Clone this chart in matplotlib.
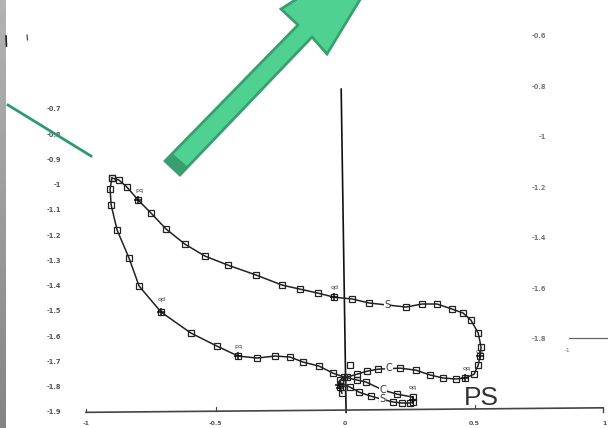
#!/usr/bin/python

import matplotlib
matplotlib.use("Agg")
import matplotlib.pyplot as plt
import numpy as np
from matplotlib.patches import Polygon

# scanned loop, from the top left corner, round the right lobe, to the centre
upper_x = [-0.900, -0.873, -0.842, -0.799, -0.749, -0.691, -0.618, -0.541, -0.452, -0.344, -0.243, -0.174, -0.104, -0.042, 0.027, 0.093, 0.236, 0.297, 0.355, 0.413, 0.456, 0.486, 0.514, 0.525, 0.521, 0.514, 0.498, 0.463, 0.429, 0.378, 0.328, 0.274, 0.212, 0.127, 0.085, 0.046, 0.008, -0.019, -0.019, -0.012]
upper_y = [-0.972, -0.980, -1.008, -1.059, -1.111, -1.174, -1.234, -1.281, -1.317, -1.356, -1.396, -1.412, -1.428, -1.444, -1.451, -1.467, -1.483, -1.471, -1.471, -1.491, -1.507, -1.535, -1.586, -1.642, -1.677, -1.713, -1.749, -1.764, -1.768, -1.764, -1.752, -1.733, -1.725, -1.729, -1.737, -1.749, -1.760, -1.772, -1.800, -1.824]

# from the same corner, down the left side, then round the small tail
lower_x = [-0.900, -0.907, -0.903, -0.880, -0.834, -0.795, -0.710, -0.595, -0.494, -0.413, -0.340, -0.270, -0.212, -0.162, -0.100, -0.046, -0.004, 0.046, 0.081, 0.147, 0.201, 0.263, 0.263, 0.251, 0.220, 0.185, 0.143, 0.100, 0.054, 0.019, -0.012]
lower_y = [-0.972, -1.016, -1.079, -1.178, -1.289, -1.400, -1.503, -1.586, -1.638, -1.677, -1.685, -1.677, -1.681, -1.701, -1.717, -1.745, -1.760, -1.772, -1.780, -1.812, -1.828, -1.840, -1.859, -1.863, -1.863, -1.859, -1.848, -1.836, -1.820, -1.800, -1.785]

stray_x = [0.019]
stray_y = [-1.713]

# points marked with an extra cross
cross_x = [-0.799, -0.042, -0.710, -0.413, 0.521, 0.463, 0.263, -0.025, -0.020]
cross_y = [-1.059, -1.444, -1.503, -1.677, -1.677, -1.764, -1.850, -1.790, -1.805]

point_labels = ["qd", "pq", "qd", "qq", "qq", "qq", "pq"]
label_x = [-0.040, -0.413, -0.710, 0.470, 0.262, 0.520, -0.795]
label_y = [-1.405, -1.640, -1.455, -1.725, -1.800, -1.660, -1.020]

letters = ["S", "C", "C", "S"]
letter_x = [0.162, 0.170, 0.147, 0.143]
letter_y = [-1.475, -1.725, -1.812, -1.848]

left_ticks = [-0.7, -0.8, -0.9, -1, -1.1, -1.2, -1.3, -1.4, -1.5, -1.6, -1.7, -1.8, -1.9]
left_labels = ["-0.7", "-0.8", "-0.9", "-1", "-1.1", "-1.2", "-1.3", "-1.4", "-1.5", "-1.6", "-1.7", "-1.8", "-1.9"]
right_ticks = [-0.6, -0.8, -1, -1.2, -1.4, -1.6, -1.8]
right_labels = ["-0.6", "-0.8", "-1", "-1.2", "-1.4", "-1.6", "-1.8"]
bottom_ticks = [-1, -0.5, 0, 0.5, 1]
bottom_labels = ["-1", "-0.5", "0", "0.5", "1"]

INK = "#222222"
RIGHT_OFFSET = 0.19  # right hand scale sits this far above the left one

fig = plt.figure(figsize=(6.08, 4.28), dpi=100)
ax = fig.add_axes([0, 0, 1, 1])
ax.set_xlim(-1.332, 1.015)
ax.set_ylim(-1.962, -0.267)
ax.axis("off")

# the scan is a little skewed, so both axes are slightly tilted
ax.plot([-0.015, 0.004], [-0.620, -1.900], color="#111111", linewidth=1.2)
ax.plot([-1.000, 0.996], [-1.900, -1.882], color="#444444", linewidth=1.2)
ax.plot([0.996, 0.996], [-1.882, -1.900], color="#444444", linewidth=1)
for t in bottom_ticks[:-1]:
    ax.plot([t, t], [-1.898 + 0.009 * (t + 1), -1.885 + 0.009 * (t + 1)], color="#444444", linewidth=0.8)
ax.plot([0.865, 1.012], [-1.605, -1.605], color="#666666", linewidth=0.9)
ax.text(0.860, -1.655, "-1", fontsize=4, color="#666666", ha="center", va="center")

ax.plot(upper_x, upper_y, color=INK, linewidth=1.1)
ax.plot(lower_x, lower_y, color=INK, linewidth=1.1)
for xs, ys in [(upper_x, upper_y), (lower_x, lower_y), (stray_x, stray_y)]:
    ax.plot(xs, ys, linestyle="none", marker="s", markersize=4, markerfacecolor="none", markeredgecolor=INK, markeredgewidth=0.9)
ax.plot(cross_x, cross_y, linestyle="none", marker="+", markersize=6, markeredgecolor="#111111", markeredgewidth=1.1)

for s, x, y in zip(point_labels, label_x, label_y):
    ax.text(x, y, s, fontsize=4.5, color="#333333", ha="center", va="center")
for s, x, y in zip(letters, letter_x, letter_y):
    ax.text(x, y, s, fontsize=7, color="#333333", ha="center", va="center",
            bbox=dict(facecolor="white", edgecolor="none", pad=0.3))

for t, s in zip(left_ticks, left_labels):
    ax.text(-1.097, t, s, fontsize=4.8, fontweight="bold", color="#555555", ha="right", va="center")
for t, s in zip(right_ticks, right_labels):
    ax.text(0.776, t + RIGHT_OFFSET, s, fontsize=4.8, fontweight="bold", color="#777777", ha="right", va="center")
for t, s in zip(bottom_ticks, bottom_labels):
    ax.text(t, -1.945, s, fontsize=4.5, fontweight="bold", color="#555555", ha="center", va="center")

ax.text(0.525, -1.845, "PS", fontsize=19, color="#333333", ha="center", va="center", family="Liberation Sans")

# overlays drawn on the scan, in pixel coordinates
over = fig.add_axes([0, 0, 1, 1], facecolor="none")

strip = np.linspace(0.70, 0.52, 64).reshape(-1, 1)
over.imshow(strip, extent=[0, 6, 428, 0], aspect="auto", cmap="gray", vmin=0, vmax=1)
over.set_xlim(0, 608)
over.set_ylim(428, 0)
over.axis("off")

over.add_patch(Polygon([(165, 161), (180, 175), (312, 37), (327, 54), (378, -30), (300, -3), (281, 9), (298, 25)],
                       closed=True, facecolor="#4fd192", edgecolor="#3a9f6e", linewidth=2))
over.add_patch(Polygon([(165, 161), (180, 175), (187, 167), (172, 154)], closed=True, facecolor="#3a9f6e", edgecolor="#3a9f6e", linewidth=1))
over.plot([8, 91], [105, 156], color="#2e9a6c", linewidth=2)
over.plot([6, 6.5], [36, 46], color="#222222", linewidth=1.2)
over.plot([27, 27.5], [35, 40], color="#333333", linewidth=0.8)

fig.savefig("out.png", dpi=100)
